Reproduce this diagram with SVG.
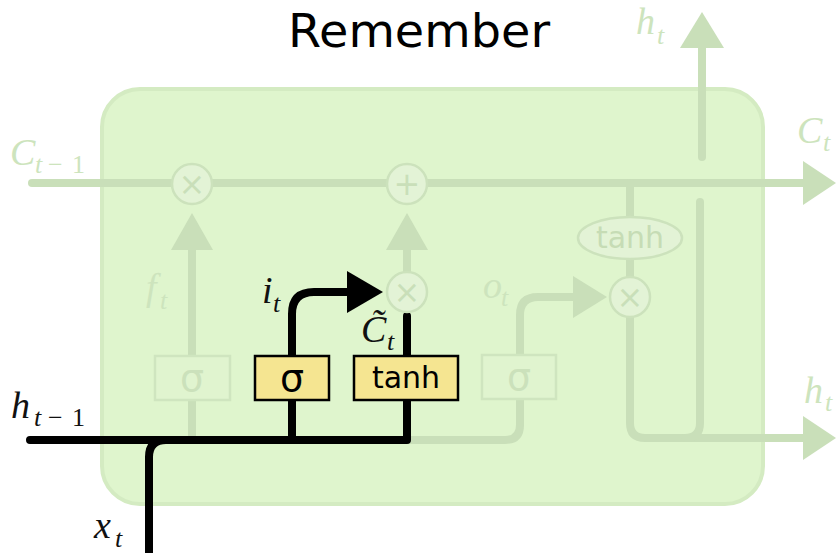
<svg xmlns="http://www.w3.org/2000/svg" width="836" height="553" viewBox="0 0 836 553">
<style>
.fl{fill:none;stroke:#c9dfb9;stroke-width:8;stroke-linecap:round;stroke-linejoin:round}
.fa{fill:#c9dfb9;stroke:none}
.bl{fill:none;stroke:#000;stroke-width:8;stroke-linecap:round;stroke-linejoin:round}
.op{fill:#e3f3d6;stroke:#cce2bc;stroke-width:2.5}
.opt{font-family:"DejaVu Sans",sans-serif;font-size:32px;fill:#c9dfb9;text-anchor:middle}
.fbox{fill:#e0f4cf;stroke:#cfe5bf;stroke-width:2.5}
.ybox{fill:#f5e591;stroke:#000;stroke-width:2.5}
.sg{font-family:"DejaVu Sans",sans-serif;font-size:38px;text-anchor:middle}
.th{font-family:"DejaVu Sans",sans-serif;font-size:30px;text-anchor:middle}
.m{font-family:"Liberation Serif",serif;font-style:italic;font-size:38px}
.s{font-family:"Liberation Serif",serif;font-style:italic;font-size:26px}
.sn{font-family:"Liberation Serif",serif;font-style:normal;font-size:26px}
.fd{fill:#cde4bd}
.dk{fill:#111}
</style>

<text x="288" y="47" font-family="'DejaVu Sans',sans-serif" font-size="46" textLength="262" lengthAdjust="spacingAndGlyphs" fill="#000">Remember</text>

<g id="cell">
<rect x="102" y="89" width="661" height="415" rx="38" ry="38" fill="#dff5cd" stroke="#d4ebc2" stroke-width="4"/>
</g>

<g id="connectors">
<path class="fl" d="M32,183 H806"/>
<polygon class="fa" points="803,161 836,183 803,205"/>
<path class="fl" d="M192,440 V400 M192,356 V248"/>
<polygon class="fa" points="171,250 192,213 213,250"/>
<path class="fl" d="M407,272 V248"/>
<polygon class="fa" points="386,250 407,213 428,250"/>
<path class="fl" d="M407,440 H505 Q520,440 520,425 V400"/>
<path class="fl" d="M520,355 V315 Q520,297 538,297 H576"/>
<polygon class="fa" points="573,276 607,297 573,318"/>
<path class="fl" d="M630,183 V217 M630,259 V277"/>
<path class="fl" d="M630,317 V423 Q630,438 645,438 H806"/>
<polygon class="fa" points="803,416 836,438 803,460"/>
<path class="fl" d="M700,202 V423 Q700,438 685,438"/>
<path class="fl" d="M702,157 V46"/>
<polygon class="fa" points="680,48 702,12 724,48"/>
<path class="bl" d="M149,553 V457 Q149,440 166,440"/>
<path class="bl" d="M30,440 H407 V400"/>
<path class="bl" d="M292,440 V400"/>
<path class="bl" d="M292,356 V314 Q292,292 314,292 H352"/>
<polygon fill="#000" points="347,271 383,292 347,313"/>
<path class="bl" d="M407,356 V316" stroke-linecap="butt"/>
</g>

<g id="mul_forget">
<circle class="op" cx="192" cy="184" r="20"/>
<text class="opt" x="192" y="195">×</text>
</g>
<g id="add">
<circle class="op" cx="407" cy="184" r="20"/>
<text class="opt" x="407" y="195">+</text>
</g>
<g id="mul_input">
<circle class="op" cx="407" cy="292" r="20"/>
<text class="opt" x="407" y="303">×</text>
</g>
<g id="mul_output">
<circle class="op" cx="630" cy="297" r="20"/>
<text class="opt" x="630" y="308">×</text>
</g>
<g id="tanh_out">
<ellipse class="op" cx="630" cy="238" rx="52" ry="21"/>
<text class="th" x="630" y="248" fill="#c6dcb5">tanh</text>
</g>

<g id="forget_gate">
<rect class="fbox" x="155" y="356" width="75" height="44"/>
<text class="sg" x="192" y="391" fill="#cbe1bb">σ</text>
</g>
<g id="input_gate">
<rect class="ybox" x="255" y="356" width="74" height="44"/>
<text class="sg" x="292" y="391" fill="#000">σ</text>
</g>
<g id="candidate">
<rect class="ybox" x="354" y="356" width="104" height="44"/>
<text class="th" x="406" y="388" fill="#000">tanh</text>
</g>
<g id="output_gate">
<rect class="fbox" x="482" y="355" width="74" height="44"/>
<text class="sg" x="519" y="390" fill="#cbe1bb">σ</text>
</g>

<g id="labels">
<text class="m fd" x="10" y="165">C</text>
<text class="s fd" x="35" y="173">t</text>
<text class="sn fd" x="48" y="173">−</text>
<text class="sn fd" x="72" y="173">1</text>

<text class="m dk" x="11" y="418">h</text>
<text class="s dk" x="34" y="426">t</text>
<text class="sn dk" x="48" y="426">−</text>
<text class="sn dk" x="72" y="426">1</text>

<text class="m dk" x="94" y="538">x</text>
<text class="s dk" x="115" y="547">t</text>

<text class="m fd" x="636" y="34">h</text>
<text class="s fd" x="657" y="44">t</text>

<text class="m fd" x="797" y="143">C</text>
<text class="s fd" x="823" y="151">t</text>

<text class="m fd" x="804" y="403">h</text>
<text class="s fd" x="825" y="411">t</text>

<text class="m fd" x="146" y="300">f</text>
<text class="s fd" x="160" y="309">t</text>

<text class="m dk" x="262" y="303">i</text>
<text class="s dk" x="273" y="312">t</text>

<text class="m fd" x="483" y="298">o</text>
<text class="s fd" x="501" y="306">t</text>

<text class="m dk" x="361" y="342">C&#x303;</text>
<text class="s dk" x="387" y="350">t</text>
</g>
</svg>
